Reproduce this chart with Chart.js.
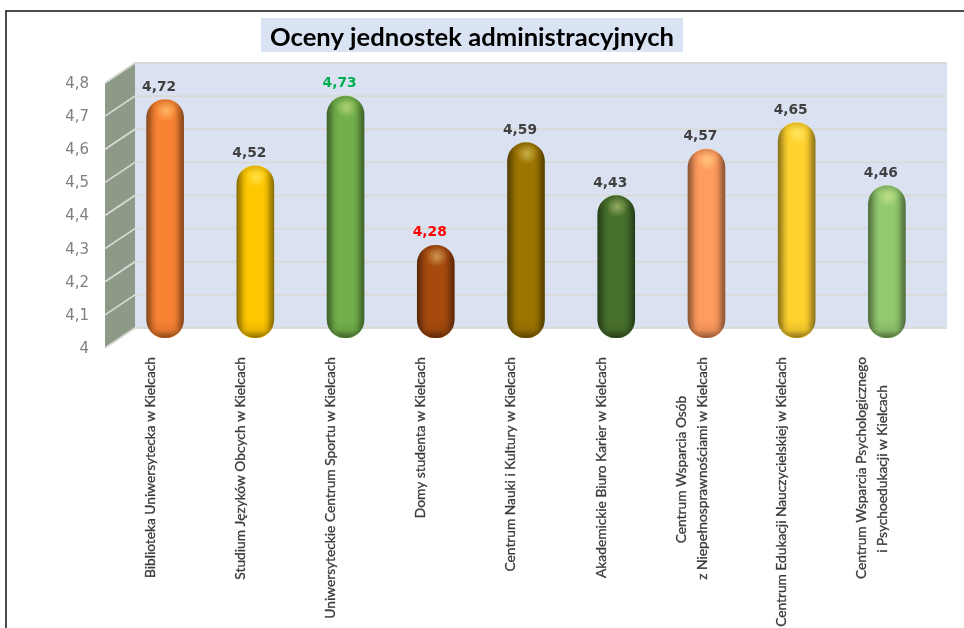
<!DOCTYPE html>
<html lang="pl">
<head>
<meta charset="utf-8">
<style>html,body{margin:0;padding:0;background:#fff}#wrap{width:964px;height:628px;position:relative}</style>
<script src="https://cdn.jsdelivr.net/npm/chart.js@4"></script>
</head>
<body>
<div id="wrap"><canvas id="c" width="964" height="628"></canvas></div>
<script>
const titleText = 'Oceny jednostek administracyjnych';
const categories = [
  ['Biblioteka Uniwersytecka w Kielcach'],
  ['Studium Języków Obcych w Kielcach'],
  ['Uniwersyteckie Centrum Sportu w Kielcach'],
  ['Domy studenta w Kielcach'],
  ['Centrum Nauki i Kultury w Kielcach'],
  ['Akademickie Biuro Karier w Kielcach'],
  ['Centrum Wsparcia Osób', 'z Niepełnosprawnościami w Kielcach'],
  ['Centrum Edukacji Nauczycielskiej w Kielcach'],
  ['Centrum Wsparcia Psychologicznego', 'i Psychoedukacji w Kielcach']
];
const ratings = [4.72, 4.52, 4.73, 4.28, 4.59, 4.43, 4.57, 4.65, 4.46];
const barColors = ['#F98232', '#FFC800', '#72B04A', '#A64A0E', '#9C7400', '#47702C', '#FF9B5E', '#FFD22E', '#92C86E'];
const labelColors = ['#404040', '#404040', '#00B050', '#FF0000', '#404040', '#404040', '#404040', '#404040', '#404040'];
const axisMin = 4, axisMax = 4.8, axisStep = 0.1;

const DEPTH_X = 15, DEPTH_Y = 10;
const labelFont = '13.75px Lato';
const valueFont = 'bold 13.8px "DejaVu Sans"';

function shade(hex, f) {
  const n = parseInt(hex.slice(1), 16);
  const c = [n >> 16, (n >> 8) & 255, n & 255].map(v => Math.round(v * f));
  return `rgb(${c[0]},${c[1]},${c[2]})`;
}
const comma = (v, d) => v.toFixed(d).replace('.', ',');

const measure = document.createElement('canvas').getContext('2d');
function centredLines(lines) {
  if (lines.length < 2) return lines;
  measure.font = labelFont;
  const widths = lines.map(l => measure.measureText(l).width);
  const max = Math.max(...widths);
  const sp = measure.measureText('\u00A0').width;
  return lines.map((l, i) => l + '\u00A0'.repeat(Math.round((max - widths[i]) / 2 / sp)));
}

const scenery = {
  id: 'scenery',
  beforeDraw(chart) {
    const { ctx, chartArea: a, scales: { y, x } } = chart;
    // two-line category labels straddle their tick
    x.getLabelItems().forEach(item => {
      if (Array.isArray(item.label) && item.label.length > 1 && !item.shifted) {
        item.options.translation[0] -= 10;
        item.shifted = true;
      }
    });
    ctx.save();
    // page frame
    ctx.strokeStyle = '#111';
    ctx.lineWidth = 1.5;
    ctx.beginPath();
    ctx.moveTo(6, 628); ctx.lineTo(6, 11); ctx.lineTo(964, 11);
    ctx.stroke();

    // title box
    const cx = (chart.titleBlock.left + chart.titleBlock.right) / 2;
    ctx.fillStyle = '#DAE3F3';
    ctx.fillRect(cx - 211, 18, 422, 34);

    const top = y.getPixelForValue(axisMax), bot = y.getPixelForValue(axisMin);
    const backL = a.left + DEPTH_X, backR = a.right + DEPTH_X;
    const frontL = a.left - DEPTH_X;
    // back wall
    ctx.fillStyle = '#DAE2F2';
    ctx.fillRect(backL, top - DEPTH_Y, backR - backL, bot - top);
    // left wall
    ctx.fillStyle = '#8E9A88';
    ctx.beginPath();
    ctx.moveTo(frontL, top + DEPTH_Y);
    ctx.lineTo(backL, top - DEPTH_Y);
    ctx.lineTo(backL, bot - DEPTH_Y);
    ctx.lineTo(frontL, bot + DEPTH_Y);
    ctx.closePath();
    ctx.fill();
    // grid lines
    ctx.lineWidth = 1.8;
    ctx.strokeStyle = '#D9D9D6';
    for (const t of y.ticks) {
      const p = y.getPixelForValue(t.value);
      ctx.beginPath();
      ctx.moveTo(frontL, p + DEPTH_Y);
      ctx.lineTo(backL, p - DEPTH_Y);
      ctx.lineTo(backR, p - DEPTH_Y);
      ctx.stroke();
    }
    ctx.restore();
  },
  afterDatasetsDraw(chart) {
    const { ctx } = chart;
    const meta = chart.getDatasetMeta(0);
    ctx.save();
    meta.data.forEach((bar, i) => {
      const r = bar.width / 2;
      const topY = bar.y, baseY = bar.base;
      ctx.save();
      ctx.beginPath();
      ctx.roundRect(bar.x - r, topY, bar.width, baseY - topY, r);
      ctx.clip();
      // darker lower cap
      const lo = ctx.createLinearGradient(0, baseY - r, 0, baseY);
      lo.addColorStop(0, 'rgba(0,0,0,0)');
      lo.addColorStop(0.55, 'rgba(0,0,0,0.08)');
      lo.addColorStop(1, 'rgba(0,0,0,0.45)');
      ctx.fillStyle = lo;
      ctx.fillRect(bar.x - r, baseY - r, bar.width, r);
      // soft shading under the top rim
      const up = ctx.createLinearGradient(0, topY, 0, topY + r);
      up.addColorStop(0, 'rgba(0,0,0,0.14)');
      up.addColorStop(0.45, 'rgba(0,0,0,0)');
      ctx.fillStyle = up;
      ctx.fillRect(bar.x - r, topY, bar.width, r);
      // specular spot
      const hx = bar.x + 1, hy = topY + 11;
      const glow = ctx.createRadialGradient(hx, hy, 0, hx, hy, 11);
      glow.addColorStop(0, 'rgba(255,255,170,0.42)');
      glow.addColorStop(1, 'rgba(255,255,170,0)');
      ctx.fillStyle = glow;
      ctx.fillRect(bar.x - r, topY, bar.width, r + 8);
      ctx.restore();
      // value label
      ctx.font = valueFont;
      ctx.fillStyle = labelColors[i];
      ctx.textAlign = 'center';
      ctx.textBaseline = 'middle';
      ctx.fillText(comma(ratings[i], 2), bar.x - 6, topY - 12.5);
    });
    ctx.restore();
  }
};

new Chart(document.getElementById('c'), {
  type: 'bar',
  data: {
    labels: categories,
    datasets: [{
      data: ratings,
      base: axisMin,
      barThickness: 37,
      borderWidth: 0,
      borderSkipped: false,
      borderRadius: { topLeft: 18.5, topRight: 18.5, bottomLeft: 18.5, bottomRight: 18.5 },
      backgroundColor(ctx) {
        const col = barColors[ctx.dataIndex];
        const x = ctx.chart.scales.x;
        if (!x || ctx.dataIndex === undefined) return col;
        const c = x.getPixelForValue(ctx.dataIndex);
        if (!Number.isFinite(c)) return col;
        const g = ctx.chart.ctx.createLinearGradient(c - 18.5, 0, c + 18.5, 0);
        g.addColorStop(0, shade(col, 0.55));
        g.addColorStop(0.08, shade(col, 0.68));
        g.addColorStop(0.2, shade(col, 0.92));
        g.addColorStop(0.3, col);
        g.addColorStop(0.7, col);
        g.addColorStop(0.8, shade(col, 0.92));
        g.addColorStop(0.92, shade(col, 0.68));
        g.addColorStop(1, shade(col, 0.55));
        return g;
      }
    }]
  },
  options: {
    responsive: false,
    animation: false,
    layout: { padding: { left: 12, right: 32, top: 0, bottom: 0 } },
    plugins: {
      legend: { display: false },
      tooltip: { enabled: false },
      title: {
        display: true,
        text: titleText,
        color: '#000',
        font: { family: 'Lato', size: 25.6, weight: 'bold', lineHeight: 1.2 },
        padding: { top: 22, bottom: 20.28 }
      }
    },
    scales: {
      x: {
        grid: { display: false, drawTicks: false },
        border: { display: false },
        afterFit(s) { s.height = 290; },
        ticks: {
          autoSkip: false,
          minRotation: 90,
          maxRotation: 90,
          padding: 19,
          labelOffset: -15,
          color: '#3A3A3A',
          textStrokeColor: '#3A3A3A',
          textStrokeWidth: 0.3,
          font: { family: 'Lato', size: 13.75, lineHeight: 1.5 },
          callback(v, i) { return centredLines(categories[i]); }
        }
      },
      y: {
        min: axisMin,
        max: axisMax,
        grid: { display: false, drawTicks: false },
        border: { display: false },
        afterFit(s) { s.width = 108; },
        ticks: {
          stepSize: axisStep,
          padding: 31,
          labelOffset: 11,
          color: '#7F7F7F',
          font: { family: 'DejaVu Sans', size: 15 },
          callback(v) { return Math.abs(v - axisMin) < 1e-6 ? '4' : comma(v, 1); }
        }
      }
    }
  },
  plugins: [scenery]
});
</script>
</body>
</html>
